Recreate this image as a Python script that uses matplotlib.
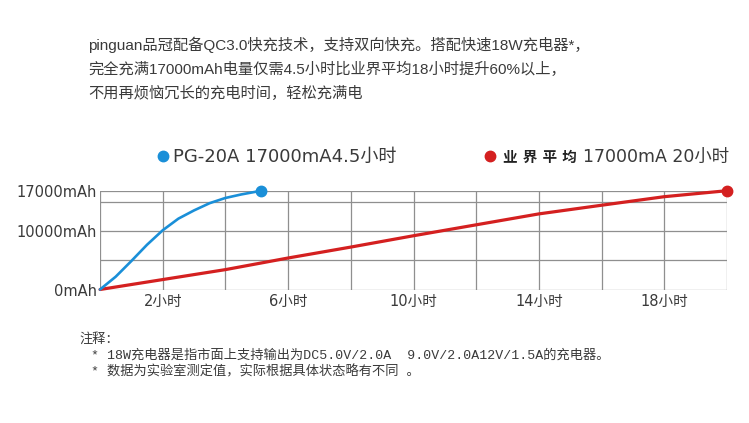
import matplotlib
matplotlib.use("Agg")
import matplotlib.pyplot as plt
from matplotlib.lines import Line2D

plt.rcParams["font.family"] = ["Noto Sans CJK SC", "DejaVu Sans"]

# charging curves (hours, mAh)
pg_hours = [0, 0.5, 1, 1.5, 2, 2.5, 3, 3.5, 4, 4.5, 5.15]
pg_mah = [0, 2200, 4900, 7700, 10190, 12190, 13610, 14860, 15750, 16350, 17000]

avg_hours = [0, 2, 4, 6, 8, 10, 12, 14, 16, 18, 20]
avg_mah = [0, 1710, 3420, 5420, 7300, 9250, 11130, 13010, 14500, 15970, 17000]

y_ticks = [0, 10000, 17000]
y_labels = ["0mAh", "10000mAh", "17000mAh"]
y_grid = [5000, 15000]
x_ticks = [2, 6, 10, 14, 18]
x_labels = ["2小时", "6小时", "10小时", "14小时", "18小时"]
x_grid = [0, 2, 4, 6, 8, 10, 12, 14, 16, 18, 20]

headline = [
    "pinguan品冠配备QC3.0快充技术，支持双向快充。搭配快速18W充电器*，",
    "完全充满17000mAh电量仅需4.5小时比业界平均18小时提升60%以上，",
    "不用再烦恼冗长的充电时间，轻松充满电",
]
notes_title = "注释："
notes = [
    "* 18W充电器是指市面上支持输出为DC5.0V/2.0A  9.0V/2.0A12V/1.5A的充电器。",
    "* 数据为实验室测定值，实际根据具体状态略有不同 。",
]

BLUE = "#1a8fd8"
RED = "#d42020"
GRID = "#8f8f8f"
TXT = "#3a3a3a"

SANS = ["Liberation Sans", "Noto Sans CJK SC"]
WIDE = ["DejaVu Sans", "Noto Sans CJK SC"]
MONO = ["Liberation Mono", "Noto Sans CJK SC"]

W, H = 749, 423
fig = plt.figure(figsize=(W / 100, H / 100), dpi=100)
fig.patch.set_facecolor("white")


def fx(px):
    return px / W


def fy(py):
    return 1 - py / H


# axes box in pixel coords: x 100..727, y 190.7..289.5
ax = fig.add_axes([fx(100), fy(289.5), 627 / W, (289.5 - 190.7) / H])
ax.set_xlim(0, 20)
ax.set_ylim(0, 17000)

for xv in x_grid:
    ax.axvline(xv, color=GRID, lw=0.9, zorder=1)
for yv in y_ticks + y_grid:
    ax.axhline(yv, color=GRID, lw=0.9, zorder=1)

ax.plot(avg_hours, avg_mah, color=RED, lw=2.3, zorder=3, clip_on=False,
        solid_capstyle="round")
ax.plot(pg_hours, pg_mah, color=BLUE, lw=1.9, zorder=4, clip_on=False,
        solid_capstyle="round")
ax.plot(pg_hours[-1], pg_mah[-1], "o", color=BLUE, ms=7.5, zorder=5, clip_on=False)
ax.plot(avg_hours[-1], avg_mah[-1], "o", color=RED, ms=7.5, zorder=5, clip_on=False)

for s in ax.spines.values():
    s.set_visible(False)
ax.set_yticks(y_ticks)
ax.set_yticklabels(y_labels, fontsize=10.5, color=TXT, family=WIDE)
ax.set_xticks(x_ticks)
ax.set_xticklabels(x_labels, fontsize=10.5, color=TXT, family=WIDE)
ax.tick_params(length=0, pad=2)
ax.tick_params(axis="x", pad=3)

# headline
for i, line in enumerate(headline):
    fig.text(fx(88), fy(45 + i * 24), line, fontsize=11, color=TXT,
             va="center", ha="left", family=SANS)

# legend
fig.add_artist(Line2D([fx(163)], [fy(156)], marker="o", ms=7.5, color=BLUE,
                      transform=fig.transFigure))
fig.text(fx(173), fy(157), "PG-20A 17000mA4.5小时", fontsize=13,
         color=TXT, va="center", ha="left", family=WIDE)
fig.add_artist(Line2D([fx(490)], [fy(156)], marker="o", ms=7.5, color=RED,
                      transform=fig.transFigure))
fig.text(fx(503), fy(157), "业 界 平 均", fontsize=10.5, fontweight="bold",
         color="#222222", va="center", ha="left", family=WIDE)
fig.text(fx(583), fy(157), "17000mA 20小时", fontsize=12.5,
         color=TXT, va="center", ha="left", family=WIDE)

# notes
fig.text(fx(79), fy(339), notes_title, fontsize=9.5, color=TXT,
         va="center", ha="left", family=MONO)
for i, line in enumerate(notes):
    fig.text(fx(91), fy(355 + i * 16.5), line, fontsize=9.5, color=TXT,
             va="center", ha="left", family=MONO)

fig.savefig("out.png", dpi=100, facecolor="white")
